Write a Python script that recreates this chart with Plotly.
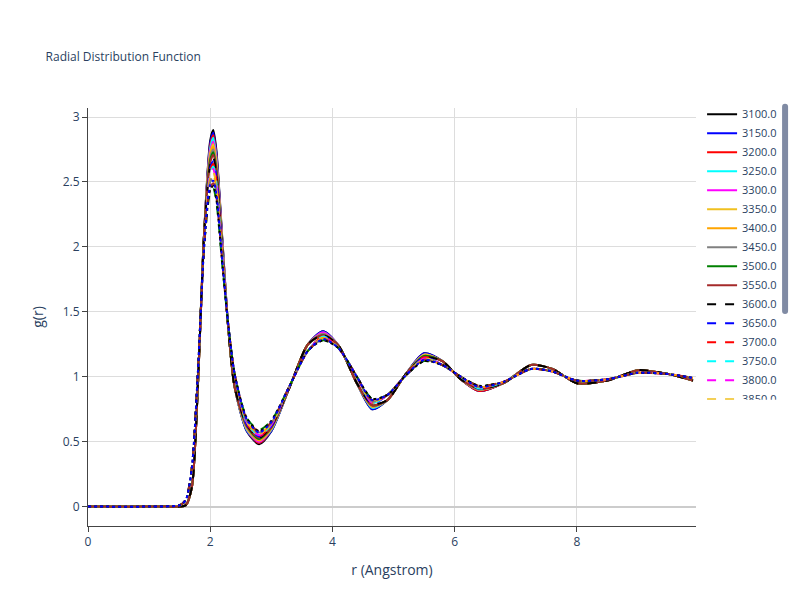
import plotly.graph_objects as go

r = [0, 1.0, 1.5, 1.6, 1.7, 1.8, 1.9, 2.0, 2.05, 2.1, 2.2, 2.3, 2.4, 2.6, 2.8, 3.0, 3.3, 3.6, 3.85,
     4.1, 4.4, 4.65, 4.9, 5.2, 5.5, 5.8, 6.1, 6.4, 6.8, 7.25, 7.6, 8.0, 8.5, 9.0, 9.5, 9.9]

temps = ["3100.0", "3150.0", "3200.0", "3250.0", "3300.0", "3350.0", "3400.0", "3450.0",
         "3500.0", "3550.0", "3600.0", "3650.0", "3700.0", "3750.0", "3800.0", "3850.0",
         "3900.0", "3950.0", "4000.0", "4050.0", "4100.0", "4150.0"]

g = [
 [0,0,0,0.01,0.15,0.95,2.1, 2.82,2.90,2.75,2.05, 1.35,0.92, .58,.48,.58, 0.92,1.25, 1.35, 1.24,0.95, .75, 0.82,1.02, 1.18, 1.12,0.98, .89, 0.95,1.09,1.06,0.95,0.97,1.05,1.02,0.97],
 [0,0,0,0.01,0.15,0.95,2.1, 2.80,2.88,2.73,2.04, 1.35,0.92, .58,.49,.58, 0.92,1.25, 1.35, 1.24,0.95, .75, 0.82,1.02, 1.18, 1.12,0.98, .89, 0.95,1.09,1.06,0.95,0.97,1.05,1.02,0.97],
 [0,0,0,0.01,0.15,0.95,2.1, 2.78,2.86,2.71,2.03, 1.35,0.92, .59,.49,.59, 0.92,1.25, 1.34, 1.24,0.95, .76, 0.82,1.02, 1.17, 1.12,0.98, .89, 0.95,1.09,1.06,0.95,0.97,1.05,1.02,0.97],
 [0,0,0,0.01,0.15,0.95,2.1, 2.76,2.84,2.69,2.02, 1.35,0.92, .59,.50,.59, 0.92,1.25, 1.34, 1.24,0.95, .76, 0.82,1.02, 1.17, 1.12,0.98, .90, 0.95,1.09,1.06,0.95,0.97,1.05,1.02,0.97],
 [0,0,0,0.01,0.15,0.95,2.1, 2.74,2.81,2.67,2.01, 1.35,0.92, .60,.50,.60, 0.92,1.25, 1.34, 1.24,0.95, .77, 0.82,1.02, 1.17, 1.12,0.98, .90, 0.95,1.09,1.06,0.95,0.97,1.05,1.02,0.97],
 [0,0,0,0.01,0.15,0.95,2.1, 2.72,2.79,2.65,2.00, 1.35,0.92, .60,.51,.60, 0.92,1.25, 1.33, 1.24,0.95, .77, 0.82,1.02, 1.17, 1.12,0.98, .90, 0.95,1.09,1.06,0.95,0.97,1.05,1.02,0.97],
 [0,0,0,0.01,0.15,0.95,2.1, 2.71,2.77,2.64,1.99, 1.35,0.92, .61,.51,.60, 0.92,1.25, 1.33, 1.24,0.95, .77, 0.82,1.02, 1.16, 1.12,0.98, .90, 0.95,1.09,1.06,0.95,0.97,1.05,1.02,0.97],
 [0,0,0,0.01,0.15,0.95,2.1, 2.69,2.75,2.62,1.98, 1.35,0.92, .61,.52,.61, 0.92,1.25, 1.33, 1.24,0.95, .78, 0.82,1.02, 1.16, 1.12,0.98, .90, 0.95,1.09,1.06,0.95,0.97,1.05,1.02,0.97],
 [0,0,0,0.01,0.15,0.95,2.1, 2.67,2.73,2.60,1.97, 1.35,0.92, .62,.52,.61, 0.92,1.25, 1.32, 1.24,0.95, .78, 0.82,1.02, 1.16, 1.12,0.98, .91, 0.95,1.09,1.06,0.95,0.97,1.05,1.02,0.97],
 [0,0,0,0.01,0.15,0.95,2.1, 2.65,2.71,2.58,1.96, 1.35,0.92, .62,.53,.61, 0.92,1.25, 1.32, 1.24,0.95, .78, 0.82,1.02, 1.15, 1.12,0.98, .91, 0.95,1.09,1.06,0.95,0.97,1.05,1.02,0.97],
 [0,0,0,0.01,0.15,0.95,2.1, 2.63,2.69,2.56,1.95, 1.35,0.92, .63,.53,.62, 0.92,1.25, 1.32, 1.24,0.95, .79, 0.82,1.02, 1.15, 1.12,0.98, .91, 0.95,1.09,1.06,0.95,0.97,1.05,1.02,0.97],
 [0,0,0.01,0.05,0.3,1.05,2.0, 2.61,2.66,2.54,1.95, 1.38,1.02, .63,.54,.62, 0.93,1.2, 1.31, 1.22,1.0, .79, 0.86,1.01, 1.15, 1.09,1.0, .91, 0.96,1.06,1.04,0.97,0.98,1.03,1.02,0.99],
 [0,0,0.01,0.05,0.3,1.05,2.0, 2.59,2.64,2.52,1.94, 1.38,1.02, .64,.54,.63, 0.93,1.2, 1.31, 1.22,1.0, .80, 0.86,1.01, 1.15, 1.09,1.0, .91, 0.96,1.06,1.04,0.97,0.98,1.03,1.02,0.99],
 [0,0,0.01,0.05,0.3,1.05,2.0, 2.57,2.62,2.50,1.93, 1.38,1.02, .64,.55,.63, 0.93,1.2, 1.31, 1.22,1.0, .80, 0.86,1.01, 1.14, 1.09,1.0, .91, 0.96,1.06,1.04,0.97,0.98,1.03,1.02,0.99],
 [0,0,0.01,0.05,0.3,1.05,2.0, 2.55,2.60,2.48,1.92, 1.38,1.02, .65,.55,.63, 0.93,1.2, 1.30, 1.22,1.0, .80, 0.86,1.01, 1.14, 1.09,1.0, .92, 0.96,1.06,1.04,0.97,0.98,1.03,1.02,0.99],
 [0,0,0.01,0.05,0.3,1.05,2.0, 2.53,2.58,2.46,1.91, 1.38,1.02, .65,.56,.64, 0.93,1.2, 1.30, 1.22,1.0, .81, 0.86,1.01, 1.14, 1.09,1.0, .92, 0.96,1.06,1.04,0.97,0.98,1.03,1.02,0.99],
 [0,0,0.01,0.05,0.3,1.05,2.0, 2.52,2.56,2.45,1.90, 1.38,1.02, .66,.56,.64, 0.93,1.2, 1.30, 1.22,1.0, .81, 0.86,1.01, 1.13, 1.09,1.0, .92, 0.96,1.06,1.04,0.97,0.98,1.03,1.02,0.99],
 [0,0,0.01,0.05,0.3,1.05,2.0, 2.50,2.54,2.43,1.89, 1.38,1.02, .66,.57,.64, 0.93,1.2, 1.29, 1.22,1.0, .81, 0.86,1.01, 1.13, 1.09,1.0, .92, 0.96,1.06,1.04,0.97,0.98,1.03,1.02,0.99],
 [0,0,0.01,0.05,0.3,1.05,2.0, 2.42,2.45,2.35,1.85, 1.38,1.02, .68,.59,.66, 0.93,1.2, 1.28, 1.22,1.0, .83, 0.86,1.01, 1.12, 1.09,1.0, .93, 0.96,1.06,1.04,0.97,0.98,1.03,1.02,0.99],
 [0,0,0.01,0.05,0.3,1.05,2.0, 2.46,2.49,2.39,1.87, 1.38,1.02, .67,.58,.65, 0.93,1.2, 1.29, 1.22,1.0, .82, 0.86,1.01, 1.13, 1.09,1.0, .93, 0.96,1.06,1.04,0.97,0.98,1.03,1.02,0.99],
 [0,0,0.01,0.05,0.3,1.05,2.0, 2.44,2.47,2.37,1.86, 1.38,1.02, .68,.58,.66, 0.93,1.2, 1.28, 1.22,1.0, .83, 0.86,1.01, 1.12, 1.09,1.0, .93, 0.96,1.06,1.04,0.97,0.98,1.03,1.02,0.99],
 [0,0,0.01,0.05,0.3,1.05,2.0, 2.48,2.51,2.41,1.88, 1.38,1.02, .67,.57,.65, 0.93,1.2, 1.29, 1.22,1.0, .82, 0.86,1.01, 1.13, 1.09,1.0, .92, 0.96,1.06,1.04,0.97,0.98,1.03,1.02,0.99],
]

colors = ["black", "blue", "red", "cyan", "magenta", "#f0c020", "orange", "gray", "green", "brown"]
styles = []
for i in range(22):
    if i < 10:
        styles.append((colors[i], "solid"))
    elif i < 20:
        styles.append((colors[i - 10], "dash"))
    else:
        styles.append((colors[i - 20], "dot"))

fig = go.Figure()
for i, t in enumerate(temps):
    c, d = styles[i]
    fig.add_trace(go.Scatter(x=r, y=g[i], mode="lines", name=t,
                             line=dict(color=c, dash=d, width=2, shape="spline", smoothing=0.7)))

fig.update_layout(
    width=800, height=600,
    template="plotly_white",
    font=dict(family="Open Sans"),
    title=dict(text="Radial Distribution Function", x=0.047, y=0.925, font=dict(size=12)),
    margin=dict(l=80, r=112, t=100, b=82),
    legend=dict(x=1.01, y=1.02, yanchor="top", font=dict(size=11), tracegroupgap=0),
    xaxis=dict(title="r (Angstrom)", range=[0, 9.95], showline=True, linecolor="#444",
               ticks="outside", dtick=2, gridcolor="#ddd", zeroline=False),
    yaxis=dict(title="g(r)", range=[-0.15, 3.07], showline=True, linecolor="#444",
               ticks="outside", dtick=0.5, gridcolor="#ddd", zeroline=True,
               zerolinecolor="#ccc", zerolinewidth=2),
)
fig.write_html("out.html")
